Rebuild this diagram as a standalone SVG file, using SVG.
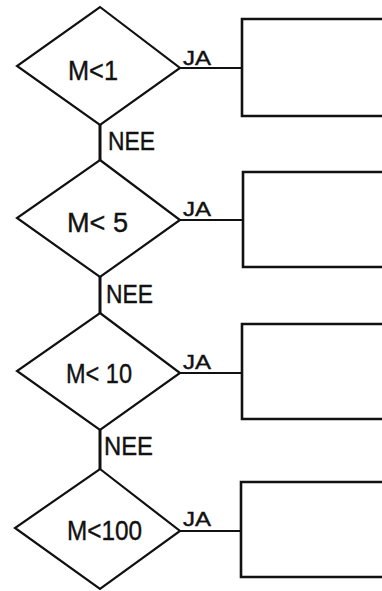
<svg xmlns="http://www.w3.org/2000/svg" width="382" height="591" viewBox="0 0 382 591">
<style>
.shape{fill:none;stroke:#111;stroke-width:2.2;stroke-linejoin:miter}
.box{fill:none;stroke:#111;stroke-width:2.6}
.conn{fill:none;stroke:#111;stroke-width:2.2}
.vconn{fill:none;stroke:#111;stroke-width:3}
.lbl{font-family:"Liberation Sans","DejaVu Sans",sans-serif;fill:#111;stroke:#111;stroke-width:0.4}
.m{font-size:28px}
.nee{font-size:26px}
.ja{font-size:21px}
</style>
<rect width="382" height="591" fill="#fff"/>
<g id="connectors">
<line class="vconn" x1="100" y1="125" x2="100" y2="160"/>
<line class="vconn" x1="100" y1="277" x2="100" y2="313"/>
<line class="vconn" x1="100" y1="430" x2="100" y2="469"/>
<line class="conn" x1="180" y1="68" x2="242" y2="68"/>
<line class="conn" x1="180" y1="220" x2="243" y2="220"/>
<line class="conn" x1="180" y1="373" x2="242" y2="373"/>
<line class="conn" x1="180" y1="531" x2="241" y2="531"/>
<text class="lbl ja" x="183" y="65" textLength="28" lengthAdjust="spacingAndGlyphs">JA</text>
<text class="lbl ja" x="183" y="216" textLength="28" lengthAdjust="spacingAndGlyphs">JA</text>
<text class="lbl ja" x="183" y="369" textLength="28" lengthAdjust="spacingAndGlyphs">JA</text>
<text class="lbl ja" x="183" y="526" textLength="28" lengthAdjust="spacingAndGlyphs">JA</text>
<text class="lbl nee" x="108" y="150" textLength="47" lengthAdjust="spacingAndGlyphs">NEE</text>
<text class="lbl nee" x="106" y="303" textLength="47" lengthAdjust="spacingAndGlyphs">NEE</text>
<text class="lbl nee" x="104" y="455" textLength="49" lengthAdjust="spacingAndGlyphs">NEE</text>
</g>
<g id="d1">
<polygon class="shape" points="100,7 180,68 100,125 17,66"/>
<text class="lbl m" x="68" y="80" textLength="50" lengthAdjust="spacingAndGlyphs">M&lt;1</text>
</g>
<g id="d2">
<polygon class="shape" points="100,160 180,220 100,277 17,218"/>
<text class="lbl m" x="67" y="232" textLength="61" lengthAdjust="spacingAndGlyphs">M&lt; 5</text>
</g>
<g id="d3">
<polygon class="shape" points="100,313 180,373 100,430 17,371"/>
<text class="lbl m" x="66" y="383" textLength="66" lengthAdjust="spacingAndGlyphs">M&lt; 10</text>
</g>
<g id="d4">
<polygon class="shape" points="100,469 180,531 100,589 15,528"/>
<text class="lbl m" x="67" y="540" textLength="75" lengthAdjust="spacingAndGlyphs">M&lt;100</text>
</g>
<g id="b1"><polyline class="box" points="382,19 242,19 242,116 382,116"/></g>
<g id="b2"><polyline class="box" points="382,172 243,172 243,267 382,267"/></g>
<g id="b3"><polyline class="box" points="382,324 242,324 242,419 382,419"/></g>
<g id="b4"><polyline class="box" points="382,482 241,482 241,577 382,577"/></g>
</svg>
